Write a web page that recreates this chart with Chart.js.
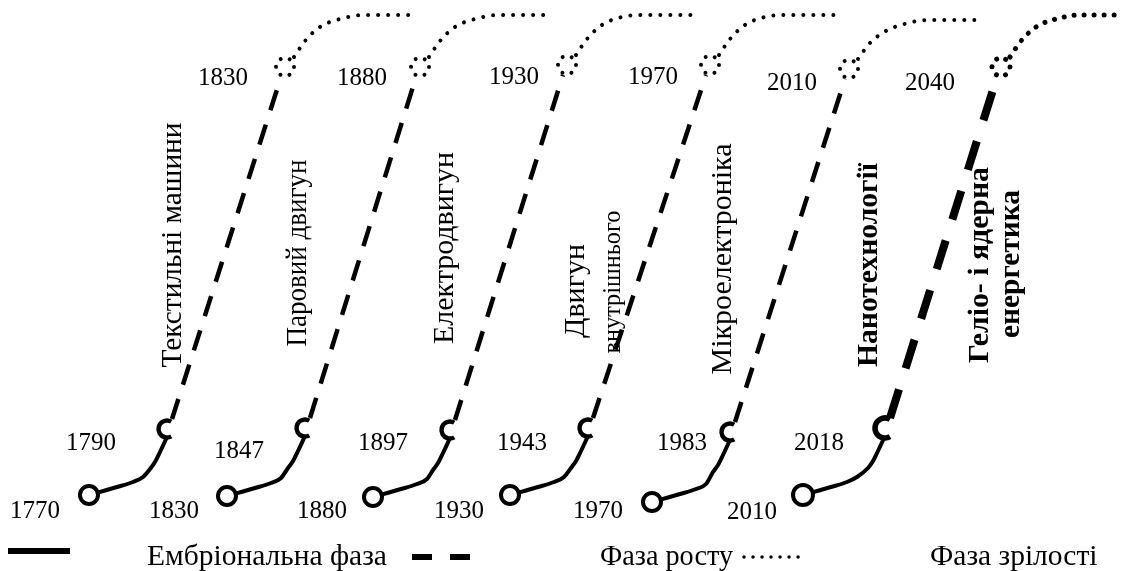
<!DOCTYPE html>
<html>
<head>
<meta charset="utf-8">
<script src="https://cdn.jsdelivr.net/npm/chart.js@4"></script>
<style>
body { margin: 0; background: #fff; }
#wrap { width: 1121px; height: 571px; position: relative; }
</style>
</head>
<body>
<div id="wrap"><canvas id="myChart"></canvas></div>
<script>
// years on each S-curve (start, take-off, end of growth)
const startYears = ['1770', '1830', '1880', '1930', '1970', '2010'];
const takeoffYears = ['1790', '1847', '1897', '1943', '1983', '2018'];
const peakYears = ['1830', '1880', '1930', '1970', '2010', '2040'];

// key points of each curve (x to the right, y counted down from the top)
const startPts = [[89, 495], [227, 496], [373, 497], [510, 495], [652, 502], [803, 495]];
const hookPts = [[167, 429], [305, 428], [450, 430], [588, 428], [730, 432], [885, 428]];
const ringPts = [[285, 67], [420, 67], [567, 65], [710, 65], [849, 69], [1001, 67]];

// embryonic phase (solid)
const embryo = [
  [[89, 495], [117, 487], [133, 482], [143, 477], [150, 469], [155, 462], [160, 452], [167, 437]],
  [[227, 496], [255, 488], [271, 483], [281, 478], [288, 468], [293, 461], [298, 451], [305, 436]],
  [[373, 497], [401, 489], [417, 484], [427, 479], [433, 470], [438, 463], [443, 453], [450, 438]],
  [[510, 495], [538, 487], [554, 482], [564, 477], [571, 468], [576, 461], [581, 451], [588, 436]],
  [[652, 502], [680, 494], [696, 489], [706, 484], [713, 472], [718, 465], [723, 455], [730, 440]],
  [[803, 495], [831, 487], [847, 482], [857, 477], [868, 468], [873, 461], [878, 451], [885, 436]]
];
// growth phase (dashed)
const growth = [
  [[172, 419], [281, 77]],
  [[310, 418], [416, 77]],
  [[455, 420], [563, 75]],
  [[593, 418], [706, 75]],
  [[735, 422], [845, 79]],
  [[890, 418], [997, 77]]
];
// maturity phase (dotted)
const maturity = [
  [[294, 57], [305, 41], [320, 27], [340, 19], [365, 15], [413, 15]],
  [[429, 57], [440, 41], [455, 27], [475, 19], [500, 15], [552, 15]],
  [[576, 55], [587, 39], [602, 25], [622, 17], [647, 15], [696, 15]],
  [[719, 55], [730, 39], [745, 25], [765, 17], [790, 15], [835, 15]],
  [[858, 59], [869, 44], [884, 32], [904, 24], [929, 20], [975, 20]],
  [[1010, 57], [1021, 41], [1036, 27], [1056, 19], [1081, 15], [1121, 15]]
];

// where the year labels sit
const startYearPos = [[35, 518], [174, 518], [322, 518], [459, 518], [598, 518], [752, 519]];
const takeoffYearPos = [[91, 450], [239, 458], [383, 450], [522, 450], [682, 450], [819, 450]];
const peakYearPos = [[223, 85], [362, 85], [514, 84], [653, 84], [792, 90], [930, 90]];

// technology names, written bottom-to-top
const techNames = ['Текстильні машини', 'Паровий двигун', 'Електродвигун', 'Двигун', 'внутрішнього',
  'Мікроелектроніка', 'Нанотехнології', 'Геліо- і ядерна', 'енергетика'];
// baseline x, middle y, length, font size, bold
const techLayout = [
  [181, 245, 245, 30, false],
  [306, 253, 187, 30, false],
  [453, 248, 195, 30, false],
  [584, 291, 103, 30, false],
  [620, 282, 143, 26, false],
  [731, 259, 232, 30, false],
  [877, 265, 204, 30, true],
  [988, 265, 196, 30, true],
  [1019, 264, 148, 30, true]
];

const legendNames = ['Ембріональна фаза', 'Фаза росту', 'Фаза зрілості'];

const serif = '"Liberation Serif", "Times New Roman", serif';

const toXY = pts => pts.map(p => ({ x: p[0], y: p[1] }));

let datasets = [];
embryo.forEach(pts => {
  datasets.push({
    data: toXY(pts), showLine: true, pointRadius: 0, borderColor: '#000',
    borderWidth: 4, cubicInterpolationMode: 'monotone', order: 1
  });
});
growth.forEach((pts, i) => {
  let bold = i == 5;
  datasets.push({
    data: toXY(pts), showLine: true, pointRadius: 0, borderColor: '#000',
    borderWidth: bold ? 8 : 4.5, borderDash: bold ? [30, 22] : [21, 15], order: 1
  });
});
maturity.forEach((pts, i) => {
  datasets.push({
    data: toXY(pts), showLine: true, pointRadius: 0, borderColor: '#000',
    borderWidth: i == 5 ? 5 : 4, borderDash: [0.01, 10], borderCapStyle: 'round',
    cubicInterpolationMode: 'monotone', order: 1
  });
});
// start circles
datasets.push({
  data: toXY(startPts), showLine: false, pointStyle: 'circle',
  pointRadius: [9, 9, 9, 9, 9, 10], pointBorderWidth: 4,
  pointBackgroundColor: '#fff', pointBorderColor: '#000', order: 0
});

const decor = {
  id: 'decor',
  afterDatasetsDraw(chart) {
    const ctx = chart.ctx;
    const sx = chart.scales.x, sy = chart.scales.y;
    const px = p => [sx.getPixelForValue(p[0]), sy.getPixelForValue(p[1])];
    ctx.save();
    ctx.strokeStyle = '#000';
    ctx.fillStyle = '#000';

    // C-shaped hook at the take-off point
    hookPts.forEach((p, i) => {
      let [cx, cy] = px(p);
      ctx.lineWidth = i == 5 ? 5.5 : 4.5;
      ctx.beginPath();
      ctx.arc(cx, cy, i == 5 ? 10 : 8.5, Math.PI / 3, Math.PI * 5 / 3);
      ctx.stroke();
    });

    // dotted ring where growth turns into maturity
    ctx.lineCap = 'round';
    ringPts.forEach((p, i) => {
      let [cx, cy] = px(p);
      ctx.lineWidth = i == 5 ? 5 : 4;
      ctx.setLineDash([0.01, 9.4]);
      ctx.beginPath();
      ctx.arc(cx, cy, 9, 0, Math.PI * 2);
      ctx.stroke();
    });
    ctx.setLineDash([]);

    // years
    ctx.font = '25px ' + serif;
    ctx.textAlign = 'center';
    ctx.textBaseline = 'alphabetic';
    const years = (labels, pos) => labels.forEach((t, i) => {
      let [tx, ty] = px(pos[i]);
      ctx.fillText(t, tx, ty);
    });
    years(startYears, startYearPos);
    years(takeoffYears, takeoffYearPos);
    years(peakYears, peakYearPos);

    // technology names
    techNames.forEach((t, i) => {
      let l = techLayout[i];
      let [tx, ty] = px([l[0], l[1]]);
      ctx.save();
      ctx.translate(tx, ty);
      ctx.rotate(-Math.PI / 2);
      ctx.font = (l[4] ? 'bold ' : '') + l[3] + 'px ' + serif;
      ctx.fillText(t, 0, 0, l[2]);
      ctx.restore();
    });

    // legend along the bottom
    ctx.font = '29.5px ' + serif;
    ctx.textAlign = 'left';
    ctx.lineCap = 'butt';
    ctx.lineWidth = 6;
    ctx.beginPath();
    ctx.moveTo(8, 551); ctx.lineTo(70, 551);
    ctx.stroke();
    ctx.fillText(legendNames[0], 147, 565);

    ctx.beginPath();
    ctx.moveTo(412, 557); ctx.lineTo(432, 557);
    ctx.moveTo(450, 557); ctx.lineTo(470, 557);
    ctx.stroke();
    ctx.fillText(legendNames[1], 600, 565, 133);

    ctx.lineCap = 'round';
    ctx.lineWidth = 3.5;
    ctx.setLineDash([0.01, 9]);
    ctx.beginPath();
    ctx.moveTo(744, 557); ctx.lineTo(800, 557);
    ctx.stroke();
    ctx.setLineDash([]);
    ctx.fillText(legendNames[2], 930, 565);

    ctx.restore();
  }
};

new Chart(document.getElementById('myChart'), {
  type: 'scatter',
  data: { datasets: datasets },
  options: {
    responsive: true,
    maintainAspectRatio: false,
    animation: false,
    layout: { padding: 0, autoPadding: false },
    scales: {
      x: { type: 'linear', display: false, min: 0, max: 1121 },
      y: { type: 'linear', display: false, min: 0, max: 571, reverse: true }
    },
    plugins: { legend: { display: false }, tooltip: { enabled: false } }
  },
  plugins: [decor]
});
</script>
</body>
</html>
